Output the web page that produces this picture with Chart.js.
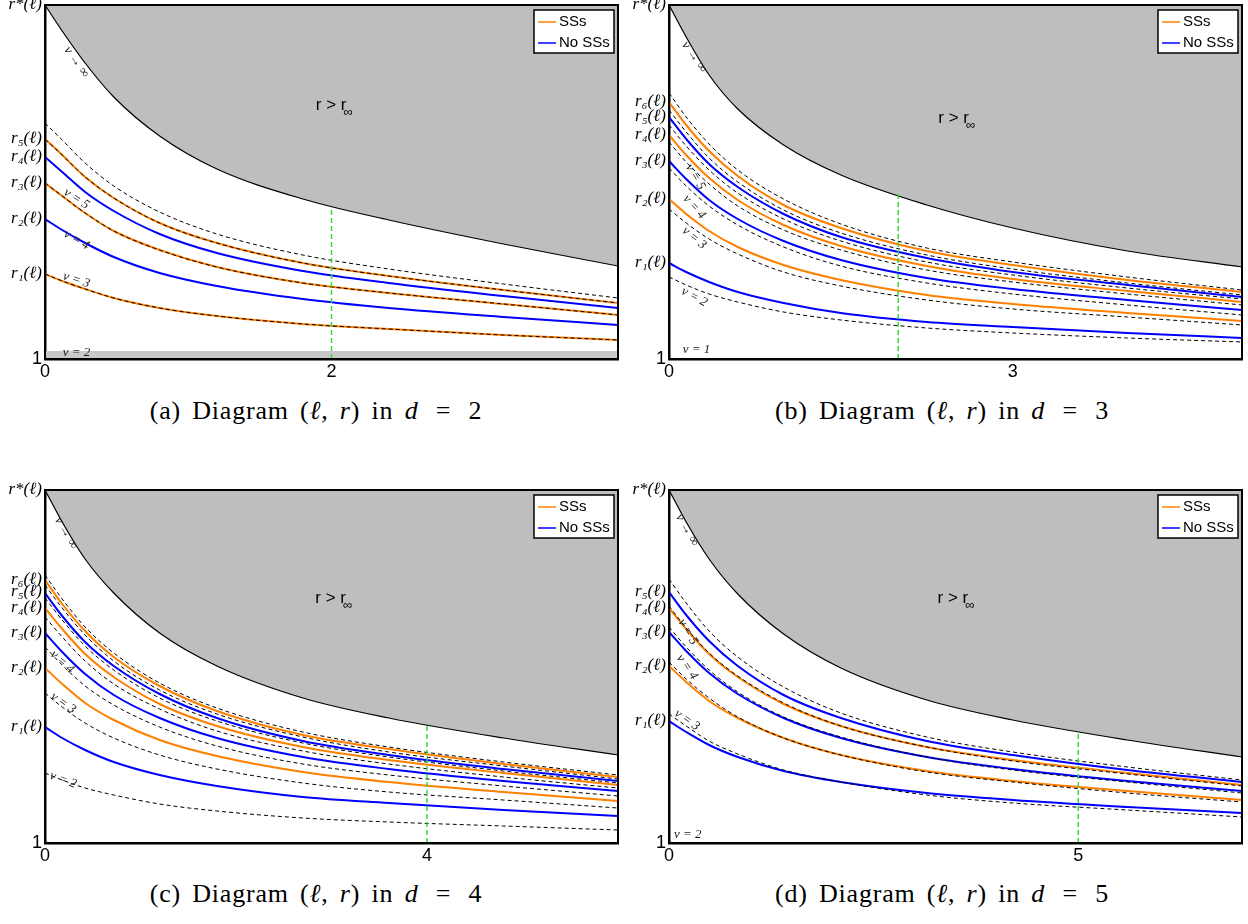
<!DOCTYPE html>
<html>
<head>
<meta charset="utf-8">
<script src="https://cdn.jsdelivr.net/npm/chart.js@4/dist/chart.umd.min.js"></script>
<style>
  body { margin: 0; background: #fff; width: 1248px; height: 924px; position: relative; overflow: hidden; }
  canvas { position: absolute; }
  .cap { position: absolute; width: 624px; text-align: center; line-height: 30px;
         font-family: 'Liberation Serif', 'DejaVu Serif', serif; font-size: 26px; letter-spacing: 0.8px; word-spacing: 4px; color: #000; }
</style>
</head>
<body>
<canvas id="pa" width="624" height="390" style="left:0;top:0"></canvas>
<canvas id="pb" width="624" height="390" style="left:624px;top:0"></canvas>
<canvas id="pc" width="624" height="405" style="left:0;top:470px"></canvas>
<canvas id="pd" width="624" height="405" style="left:624px;top:470px"></canvas>
<div class="cap" style="left:4px;top:396px">(a) Diagram (<i>ℓ</i>, <i>r</i>) in <i>d</i>&thinsp; = &thinsp;2</div>
<div class="cap" style="left:630px;top:396px">(b) Diagram (<i>ℓ</i>, <i>r</i>) in <i>d</i>&thinsp; = &thinsp;3</div>
<div class="cap" style="left:4px;top:879px">(c) Diagram (<i>ℓ</i>, <i>r</i>) in <i>d</i>&thinsp; = &thinsp;4</div>
<div class="cap" style="left:630px;top:879px">(d) Diagram (<i>ℓ</i>, <i>r</i>) in <i>d</i>&thinsp; = &thinsp;5</div>
<script>
// sampled ℓ positions for each panel
const ellA = [0, 0.12, 0.28, 0.48, 0.8, 1.2, 1.8, 2.4, 3.2, 4.0];
const ellB = [0, 0.15, 0.35, 0.6, 1.0, 1.5, 2.25, 3.0, 4.0, 5.0];
const ellC = [0, 0.18, 0.42, 0.72, 1.2, 1.8, 2.7, 3.6, 4.8, 6.0];
const ellD = [0, 0.21, 0.49, 0.84, 1.4, 2.1, 3.15, 4.2, 5.6, 7.0];

// (a) d = 2
const rInfA    = [4.54, 4.28, 3.96, 3.62, 3.23, 2.90, 2.60, 2.39, 2.15, 1.93];
const topDashA = [3.36, 3.19, 2.96, 2.73, 2.47, 2.25, 2.04, 1.90, 1.75, 1.61];
const ss5A     = [3.20, 3.04, 2.82, 2.61, 2.36, 2.16, 1.96, 1.83, 1.69, 1.56];
const noSs4A   = [3.02, 2.87, 2.67, 2.48, 2.25, 2.06, 1.88, 1.76, 1.63, 1.51];
const ss3A     = [2.76, 2.63, 2.46, 2.28, 2.09, 1.92, 1.76, 1.66, 1.55, 1.44];
const noSs2A   = [2.40, 2.29, 2.16, 2.02, 1.86, 1.73, 1.60, 1.51, 1.42, 1.34];
const ss1A     = [1.85, 1.78, 1.70, 1.61, 1.51, 1.43, 1.35, 1.30, 1.24, 1.19];
const nu2BandA = [1.08, 1.08];

// (b) d = 3
const rInfB    = [4.54, 4.22, 3.84, 3.50, 3.14, 2.84, 2.54, 2.31, 2.08, 1.92];
const topDashB = [3.66, 3.42, 3.15, 2.89, 2.60, 2.35, 2.11, 1.97, 1.82, 1.69];
const ss6B     = [3.57, 3.34, 3.08, 2.83, 2.54, 2.31, 2.08, 1.94, 1.79, 1.67];
const dash6B   = [3.49, 3.27, 3.01, 2.77, 2.49, 2.26, 2.04, 1.90, 1.76, 1.64];
const noSs5B   = [3.42, 3.20, 2.95, 2.72, 2.45, 2.22, 2.01, 1.87, 1.74, 1.62];
const dash5B   = [3.34, 3.13, 2.89, 2.66, 2.40, 2.18, 1.97, 1.84, 1.71, 1.60];
const ss4B     = [3.24, 3.04, 2.81, 2.59, 2.34, 2.13, 1.93, 1.80, 1.68, 1.57];
const dash4B   = [3.17, 2.97, 2.75, 2.53, 2.29, 2.09, 1.89, 1.77, 1.65, 1.54];
const noSs3B   = [2.98, 2.80, 2.59, 2.40, 2.18, 1.99, 1.81, 1.70, 1.59, 1.49];
const dash3B   = [2.91, 2.73, 2.53, 2.34, 2.12, 1.93, 1.76, 1.65, 1.54, 1.44];
const ss2B     = [2.60, 2.45, 2.28, 2.12, 1.94, 1.79, 1.64, 1.55, 1.46, 1.38];
const dash2B   = [2.50, 2.36, 2.20, 2.05, 1.87, 1.73, 1.59, 1.50, 1.42, 1.34];
const noSs1B   = [1.96, 1.87, 1.77, 1.67, 1.56, 1.46, 1.37, 1.32, 1.26, 1.21];
const dash1B   = [1.82, 1.74, 1.65, 1.57, 1.47, 1.39, 1.31, 1.26, 1.21, 1.17];

// (c) d = 4
const rInfC    = [4.53, 4.21, 3.84, 3.50, 3.10, 2.77, 2.45, 2.25, 2.05, 1.88];
const topDashC = [3.68, 3.44, 3.16, 2.90, 2.60, 2.35, 2.11, 1.96, 1.81, 1.68];
const ss6C     = [3.63, 3.39, 3.12, 2.86, 2.57, 2.32, 2.08, 1.94, 1.79, 1.66];
const dash6C   = [3.58, 3.35, 3.08, 2.82, 2.53, 2.29, 2.06, 1.91, 1.77, 1.64];
const noSs5C   = [3.50, 3.27, 3.01, 2.77, 2.49, 2.25, 2.02, 1.88, 1.74, 1.62];
const dash5C   = [3.45, 3.23, 2.97, 2.73, 2.45, 2.22, 2.00, 1.86, 1.72, 1.60];
const ss4C     = [3.35, 3.14, 2.89, 2.66, 2.39, 2.17, 1.96, 1.83, 1.70, 1.58];
const dash4C   = [3.26, 3.06, 2.82, 2.59, 2.34, 2.12, 1.92, 1.79, 1.66, 1.55];
const noSs3C   = [3.10, 2.91, 2.69, 2.48, 2.25, 2.05, 1.86, 1.74, 1.62, 1.52];
const dash3C   = [2.96, 2.78, 2.57, 2.38, 2.16, 1.97, 1.79, 1.68, 1.57, 1.47];
const ss2C     = [2.75, 2.59, 2.40, 2.23, 2.03, 1.87, 1.71, 1.61, 1.51, 1.42];
const dash2C   = [2.50, 2.36, 2.20, 2.05, 1.88, 1.74, 1.60, 1.51, 1.43, 1.35];
const noSs1C   = [2.16, 2.05, 1.93, 1.81, 1.68, 1.57, 1.46, 1.40, 1.33, 1.27];
const dash1C   = [1.70, 1.63, 1.55, 1.48, 1.39, 1.32, 1.25, 1.21, 1.17, 1.13];

// (d) d = 5
const rInfD    = [4.53, 4.21, 3.84, 3.49, 3.09, 2.75, 2.43, 2.23, 2.03, 1.86];
const topDashD = [3.64, 3.40, 3.12, 2.86, 2.56, 2.30, 2.06, 1.91, 1.76, 1.63];
const noSs5D   = [3.51, 3.28, 3.02, 2.77, 2.48, 2.25, 2.02, 1.88, 1.73, 1.61];
const ss4D     = [3.35, 3.14, 2.89, 2.66, 2.39, 2.17, 1.96, 1.83, 1.70, 1.58];
const dash4D   = [3.37, 3.15, 2.90, 2.67, 2.40, 2.17, 1.96, 1.82, 1.69, 1.57];
const noSs3D   = [3.11, 2.92, 2.70, 2.49, 2.25, 2.05, 1.86, 1.74, 1.62, 1.52];
const dash3D   = [3.16, 2.96, 2.73, 2.51, 2.26, 2.06, 1.86, 1.73, 1.61, 1.50];
const ss2D     = [2.77, 2.61, 2.42, 2.25, 2.05, 1.88, 1.72, 1.62, 1.52, 1.43];
const dash2D   = [2.81, 2.64, 2.45, 2.26, 2.05, 1.88, 1.71, 1.61, 1.50, 1.41];
const noSs1D   = [2.22, 2.11, 1.98, 1.86, 1.72, 1.61, 1.50, 1.43, 1.36, 1.30];
const dash1D   = [2.29, 2.17, 2.02, 1.89, 1.73, 1.61, 1.48, 1.40, 1.33, 1.26];

// axis ticks
const xTicksA = [0, 2], xTicksB = [0, 3], xTicksC = [0, 4], xTicksD = [0, 5];
const yTicksA = [1, 1.85, 2.40, 2.76, 3.02, 3.20, 4.54];
const yLabelsA = ['1', 'r₁(ℓ)', 'r₂(ℓ)', 'r₃(ℓ)', 'r₄(ℓ)', 'r₅(ℓ)', 'r*(ℓ)'];
const yTicksB = [1, 1.96, 2.60, 2.98, 3.24, 3.42, 3.57, 4.54];
const yLabelsB = ['1', 'r₁(ℓ)', 'r₂(ℓ)', 'r₃(ℓ)', 'r₄(ℓ)', 'r₅(ℓ)', 'r₆(ℓ)', 'r*(ℓ)'];
const yTicksC = [1, 2.16, 2.75, 3.10, 3.35, 3.51, 3.63, 4.53];
const yLabelsC = ['1', 'r₁(ℓ)', 'r₂(ℓ)', 'r₃(ℓ)', 'r₄(ℓ)', 'r₅(ℓ)', 'r₆(ℓ)', 'r*(ℓ)'];
const yTicksD = [1, 2.22, 2.77, 3.11, 3.35, 3.51, 4.53];
const yLabelsD = ['1', 'r₁(ℓ)', 'r₂(ℓ)', 'r₃(ℓ)', 'r₄(ℓ)', 'r₅(ℓ)', 'r*(ℓ)'];

// green marker ℓ and where it meets r∞
const markA = [2, 2.51], markB = [2, 2.65], markC = [4, 2.18], markD = [5, 2.09];

// curve annotations [text, ℓ, r, rotation]
const notesA = [['ν → ∞', 0.22, 3.97, 55], ['ν = 5', 0.22, 2.60, 33], ['ν = 4', 0.22, 2.19, 30], ['ν = 3', 0.22, 1.79, 18], ['ν = 2', 0.22, 1.06, 0]];
const notesB = [['ν → ∞', 0.22, 4.02, 55], ['ν = 5', 0.23, 2.82, 60], ['ν = 4', 0.22, 2.52, 48], ['ν = 3', 0.22, 2.21, 40], ['ν = 2', 0.22, 1.62, 28], ['ν = 1', 0.24, 1.09, 0]];
const notesC = [['ν → ∞', 0.22, 4.10, 60], ['ν = 4', 0.18, 2.81, 42], ['ν = 3', 0.19, 2.40, 35], ['ν = 2', 0.19, 1.63, 20]];
const notesD = [['ν → ∞', 0.22, 4.13, 60], ['ν = 5', 0.23, 3.11, 60], ['ν = 4', 0.22, 2.76, 55], ['ν = 3', 0.22, 2.23, 35], ['ν = 2', 0.23, 1.08, 0]];
const regionA = [1.89, 3.54], regionB = [2.35, 3.41], regionC = [2.83, 3.45], regionD = [3.28, 3.45];

const ORANGE = '#ff8000', BLUE = '#0000ff';
const SERIF = '"Liberation Serif", "DejaVu Serif", serif';

function curve(ell, vals, style) {
    return Object.assign({
        data: ell.map((x, i) => ({ x, y: vals[i] })),
        showLine: true, pointRadius: 0, fill: false,
        cubicInterpolationMode: 'monotone'
    }, style);
}

const extras = {
    id: 'extras',
    afterDatasetsDraw(chart, args, opts) {
        const { ctx, chartArea: a, scales: { x, y } } = chart;
        ctx.save();
        ctx.fillStyle = '#222';
        ctx.font = 'italic 13px ' + SERIF;
        ctx.textAlign = 'center';
        ctx.textBaseline = 'middle';
        opts.notes.forEach(([t, lx, ly, ang]) => {
            ctx.save();
            ctx.translate(x.getPixelForValue(lx), y.getPixelForValue(ly));
            ctx.rotate(ang * Math.PI / 180);
            ctx.fillText(t, 0, 0);
            ctx.restore();
        });
        // r > r∞
        const rx = x.getPixelForValue(opts.region[0]), ry = y.getPixelForValue(opts.region[1]);
        ctx.fillStyle = '#000';
        ctx.textAlign = 'left';
        ctx.font = '17px "Liberation Sans"';
        ctx.fillText('r > r', rx, ry);
        const w = ctx.measureText('r > r').width;
        ctx.font = '13px "Liberation Sans"';
        ctx.fillText('∞', rx + w - 3, ry + 7);
        // legend box
        const bx = a.right - 84, by = a.top + 5;
        ctx.fillStyle = '#fff';
        ctx.fillRect(bx, by, 80, 43);
        ctx.strokeStyle = '#000';
        ctx.lineWidth = 1.5;
        ctx.strokeRect(bx, by, 80, 43);
        [[ORANGE, 'SSs', 12], [BLUE, 'No SSs', 33]].forEach(([c, t, dy]) => {
            ctx.strokeStyle = c;
            ctx.beginPath();
            ctx.moveTo(bx + 4, by + dy);
            ctx.lineTo(bx + 22, by + dy);
            ctx.stroke();
            ctx.fillStyle = '#000';
            ctx.font = '15px "Liberation Sans"';
            ctx.fillText(t, bx + 25, by + dy);
        });
        // frame
        ctx.strokeStyle = '#000';
        ctx.lineWidth = 2;
        ctx.strokeRect(a.left, a.top, a.width, a.height);
        ctx.restore();
    }
};

const panels = [
    { id: 'pa', ell: ellA, xMax: 4, yMax: 4.54, top: 5, xH: 31, xTicks: xTicksA, yTicks: yTicksA, yLabels: yLabelsA,
      rInf: rInfA, ss: [ss5A, ss3A, ss1A], noSs: [noSs4A, noSs2A], nu: [topDashA, ss5A, ss3A, ss1A],
      band: nu2BandA, mark: markA, notes: notesA, region: regionA },
    { id: 'pb', ell: ellB, xMax: 5, yMax: 4.54, top: 5, xH: 31, xTicks: xTicksB, yTicks: yTicksB, yLabels: yLabelsB,
      rInf: rInfB, ss: [ss6B, ss4B, ss2B], noSs: [noSs5B, noSs3B, noSs1B],
      nu: [topDashB, dash6B, dash5B, dash4B, dash3B, dash2B, dash1B], mark: markB, notes: notesB, region: regionB },
    { id: 'pc', ell: ellC, xMax: 6, yMax: 4.53, top: 20, xH: 32, xTicks: xTicksC, yTicks: yTicksC, yLabels: yLabelsC,
      rInf: rInfC, ss: [ss6C, ss4C, ss2C], noSs: [noSs5C, noSs3C, noSs1C],
      nu: [topDashC, dash6C, dash5C, dash4C, dash3C, dash2C, dash1C], mark: markC, notes: notesC, region: regionC },
    { id: 'pd', ell: ellD, xMax: 7, yMax: 4.53, top: 20, xH: 32, xTicks: xTicksD, yTicks: yTicksD, yLabels: yLabelsD,
      rInf: rInfD, ss: [ss4D, ss2D], noSs: [noSs5D, noSs3D, noSs1D],
      nu: [topDashD, dash4D, dash3D, dash2D, dash1D], mark: markD, notes: notesD, region: regionD }
];

panels.forEach(p => {
    const datasets = [];
    datasets.push({
        data: [{ x: p.mark[0], y: 1 }, { x: p.mark[0], y: p.mark[1] }],
        showLine: true, pointRadius: 0, borderColor: '#33dd33', borderWidth: 1.5, borderDash: [5, 3], order: 0
    });
    p.nu.forEach(v => datasets.push(curve(p.ell, v, { borderColor: '#000', borderWidth: 1, borderDash: [4, 3], order: 1 })));
    p.ss.forEach(v => datasets.push(curve(p.ell, v, { borderColor: ORANGE, borderWidth: 2, order: 2 })));
    p.noSs.forEach(v => datasets.push(curve(p.ell, v, { borderColor: BLUE, borderWidth: 2, order: 2 })));
    datasets.push(curve(p.ell, p.rInf, { borderColor: '#000', borderWidth: 1.2, fill: 'end', backgroundColor: '#bebebe', order: 3 }));
    if (p.band) {
        datasets.push(curve([0, p.xMax], p.band, { borderWidth: 0, borderColor: 'rgba(0,0,0,0)', fill: 'start', backgroundColor: '#c8c8c8', order: 4 }));
    }

    new Chart(document.getElementById(p.id), {
        type: 'scatter',
        data: { datasets },
        options: {
            responsive: false,
            animation: false,
            devicePixelRatio: 1,
            layout: { padding: { top: p.top, right: 6, left: 0, bottom: 0 } },
            plugins: {
                legend: { display: false },
                tooltip: { enabled: false },
                extras: { notes: p.notes, region: p.region }
            },
            scales: {
                x: {
                    type: 'linear', min: 0, max: p.xMax,
                    afterBuildTicks: s => { s.ticks = p.xTicks.map(v => ({ value: v })); },
                    afterFit: s => { s.height = p.xH; s.paddingLeft = 0; s.paddingRight = 0; },
                    grid: { display: false, drawTicks: false },
                    border: { color: '#000', width: 2.5 },
                    ticks: { color: '#000', padding: 2, maxRotation: 0, font: { family: 'Liberation Sans', size: 18 } }
                },
                y: {
                    type: 'linear', min: 1, max: p.yMax,
                    afterBuildTicks: s => { s.ticks = p.yTicks.map(v => ({ value: v })); },
                    afterFit: s => { s.width = 45; s.paddingTop = 0; s.paddingBottom = 0; },
                    grid: { display: false, drawTicks: false },
                    border: { color: '#000', width: 2.5 },
                    ticks: {
                        color: '#000', padding: 3, autoSkip: false,
                        callback: v => p.yLabels[p.yTicks.indexOf(v)],
                        font: c => (c.tick && c.tick.value === 1)
                            ? { family: 'Liberation Sans', size: 18 }
                            : { family: SERIF, size: 17, style: 'italic' }
                    }
                }
            }
        },
        plugins: [extras]
    });
});
</script>
</body>
</html>
